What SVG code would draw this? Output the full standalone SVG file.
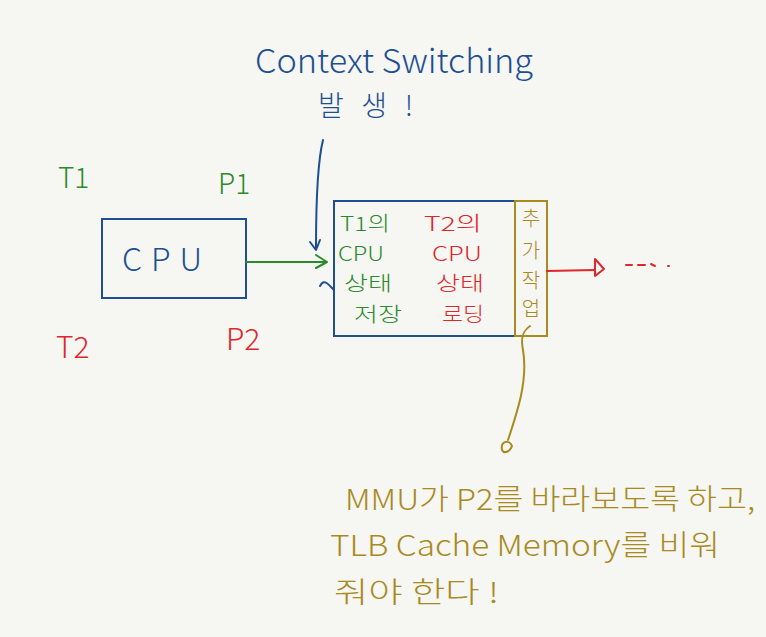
<svg xmlns="http://www.w3.org/2000/svg" width="766" height="637" viewBox="0 0 766 637">
<style>
text{font-family:"Noto Sans CJK KR","Liberation Sans",sans-serif;font-weight:300}
.b{fill:#1d4f92}.g{fill:#2b8a2b}.r{fill:#e0262b}.y{fill:#a88a1e}
.sb{stroke:#1d4f92}.sg{stroke:#2b8a2b}.sr{stroke:#e0262b}.sy{stroke:#a88a1e}
.ln{fill:none;stroke-width:2;stroke-linecap:round;stroke-linejoin:round}
.bx{font-size:20px}
</style>
<rect width="766" height="637" fill="#f6f6f2"/>
<g id="title">
<text class="b" x="255" y="73" font-size="33" textLength="278" lengthAdjust="spacingAndGlyphs">Context Switching</text>
<text class="b" x="318" y="116" font-size="28" textLength="95" lengthAdjust="spacing">발 생 !</text>
</g>
<g id="labels">
<text class="g" x="58" y="188" font-size="28">T1</text>
<text class="g" x="218" y="194" font-size="28">P1</text>
<text class="r" x="56" y="358" font-size="30">T2</text>
<text class="r" x="226" y="350" font-size="30">P2</text>
</g>
<g id="cpu">
<rect x="102" y="219" width="144" height="79" fill="none" stroke="#1d4f92" stroke-width="2"/>
<text class="b" x="122" y="271" font-size="32" textLength="80" lengthAdjust="spacing">CPU</text>
</g>
<g id="switch">
<rect x="334" y="201" width="181" height="135" fill="none" stroke="#1d4f92" stroke-width="2"/>
<text class="g bx" x="340" y="231" textLength="50" lengthAdjust="spacingAndGlyphs">T1의</text>
<text class="g bx" x="338" y="261" textLength="46" lengthAdjust="spacingAndGlyphs">CPU</text>
<text class="g bx" x="344" y="291" textLength="48" lengthAdjust="spacingAndGlyphs">상태</text>
<text class="g bx" x="354" y="322" textLength="48" lengthAdjust="spacingAndGlyphs">저장</text>
<text class="r bx" x="424" y="231" textLength="58" lengthAdjust="spacingAndGlyphs">T2의</text>
<text class="r bx" x="432" y="261" textLength="50" lengthAdjust="spacingAndGlyphs">CPU</text>
<text class="r bx" x="436" y="291" textLength="48" lengthAdjust="spacingAndGlyphs">상태</text>
<text class="r bx" x="442" y="322" textLength="42" lengthAdjust="spacingAndGlyphs">로딩</text>
</g>
<g id="extra">
<rect x="515" y="201" width="32" height="135" fill="none" stroke="#a88a1e" stroke-width="2"/>
<text class="y" x="531" y="226" font-size="20" text-anchor="middle">추</text>
<text class="y" x="531" y="258" font-size="20" text-anchor="middle">가</text>
<text class="y" x="531" y="288" font-size="20" text-anchor="middle">작</text>
<text class="y" x="531" y="316" font-size="20" text-anchor="middle">업</text>
</g>
<g id="note">
<text class="y" x="345" y="510" font-size="29" textLength="410" lengthAdjust="spacingAndGlyphs">MMU가 P2를 바라보도록 하고,</text>
<text class="y" x="330" y="556" font-size="29" textLength="390" lengthAdjust="spacingAndGlyphs">TLB Cache Memory를 비워</text>
<text class="y" x="334" y="603" font-size="29" textLength="165" lengthAdjust="spacingAndGlyphs">줘야 한다 !</text>
</g>
<g id="connectors">
<path class="ln sb" d="M323 140 C318 160 316 200 316 248"/>
<path class="ln sb" d="M310 242 L316 250 L320 240"/>
<path class="ln sb" d="M320 286 C324 278 328 284 334 290"/>
<path class="ln sg" d="M246 262 L325 262"/>
<path class="ln sg" d="M316 255 L327 262 L316 268"/>
<path class="ln sr" d="M547 271 L595 270"/>
<path class="ln sr" d="M595 259 L604 269 L595 276 Z"/>
<path class="ln sr" d="M626 265 L632 265 M638 265 L645 265 M651 264 L655 266 M668 266 L669 266" stroke-width="2.5"/>
<path class="ln sy" d="M530 326 C524 330 520 336 523 350 C528 380 518 410 508 440"/>
<path class="ln sy" d="M502 450 C500 440 510 440 512 446 C510 452 504 454 502 450"/>
</g>
</svg>
